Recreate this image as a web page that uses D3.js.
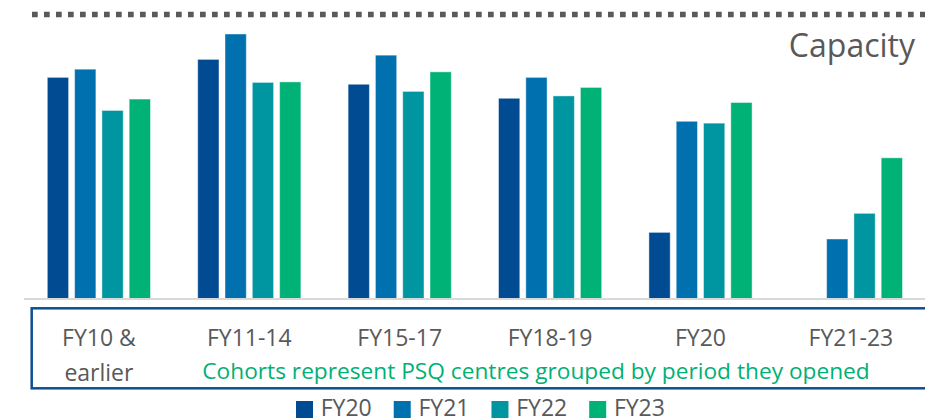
<!DOCTYPE html>
<html>
<head>
<meta charset="utf-8">
<script src="https://cdn.jsdelivr.net/npm/d3@7"></script>
<style>
  body { margin: 0; background: #fff; }
  svg { display: block; font-family: "Open Sans", "Noto Sans", sans-serif; }
</style>
</head>
<body>
<div id="chart"></div>
<script>
// cohorts (period centres opened) and the capacity of each year, indexed to the peak = 100
const cohorts = ["FY10 & earlier", "FY11-14", "FY15-17", "FY18-19", "FY20", "FY21-23"];
const years = ["FY20", "FY21", "FY22", "FY23"];
const fy20 = [83.6, 90.4, 81.0, 75.7, 25.0, 0];
const fy21 = [86.7, 100, 92.0, 83.6, 67.0, 22.5];
const fy22 = [71.1, 81.7, 78.3, 76.6, 66.3, 32.2];
const fy23 = [75.4, 81.9, 85.7, 79.8, 74.1, 53.2];
const colours = ["#004b91", "#0070ae", "#0096a1", "#00b276"];
const note = "Cohorts represent PSQ centres grouped by period they opened";

const width = 925, height = 418;
const series = [fy20, fy21, fy22, fy23];

const svg = d3.select("#chart").append("svg")
    .attr("width", width)
    .attr("height", height);

// dotted rule along the top
svg.append("line")
    .attr("x1", 32).attr("x2", width)
    .attr("y1", 14.5).attr("y2", 14.5)
    .attr("stroke", "#595959")
    .attr("stroke-width", 5.7)
    .attr("stroke-dasharray", "5.7 6.3");

const x0 = d3.scaleBand()
    .domain(cohorts)
    .range([23.7, 926.1])
    .paddingInner(0.314)
    .paddingOuter(0.157);

const x1 = d3.scaleBand()
    .domain(years)
    .range([0, x0.bandwidth()])
    .paddingInner(0.22);

const y = d3.scaleLinear()
    .domain([0, 100])
    .range([298.5, 34]);

const groups = svg.selectAll(".cohort")
    .data(cohorts)
    .enter()
        .append("g")
        .attr("class", "cohort")
        .attr("transform", d => "translate(" + x0(d) + ",0)");

groups.selectAll("rect")
    .data((c, i) => years.map((yr, j) => ({year: yr, value: series[j][i], k: j})))
    .enter()
        .append("rect")
        .filter(d => d.value > 0)
        .attr("x", d => x1(d.year))
        .attr("width", x1.bandwidth())
        .attr("y", d => y(d.value))
        .attr("height", d => y(0) - y(d.value))
        .attr("fill", d => colours[d.k])
        .attr("stroke", "rgba(255,255,255,0.45)")
        .attr("stroke-width", 1);

// baseline
svg.append("line")
    .attr("x1", 24).attr("x2", width)
    .attr("y1", 299).attr("y2", 299)
    .attr("stroke", "#d9d9d9")
    .attr("stroke-width", 2);

// framed box holding the category labels
svg.append("rect")
    .attr("x", 31.7).attr("y", 308.3)
    .attr("width", 920).attr("height", 80)
    .attr("fill", "none")
    .attr("stroke", "#0b4f92")
    .attr("stroke-width", 2.5);

svg.selectAll(".cat")
    .data(cohorts)
    .enter()
        .append("text")
        .attr("class", "cat")
        .attr("x", d => x0(d) + x0.bandwidth() / 2)
        .attr("y", 345.5)
        .attr("text-anchor", "middle")
        .attr("font-size", 23)
        .attr("fill", "#595959")
        .each(function(d) {
            const parts = d === "FY10 & earlier" ? ["FY10 &", "earlier"] : [d];
            const t = d3.select(this);
            parts.forEach((p, i) => {
                t.append("tspan")
                    .attr("x", x0(d) + x0.bandwidth() / 2)
                    .attr("dy", i === 0 ? 0 : 35.5)
                    .text(p);
            });
        });

svg.append("text")
    .attr("x", 536)
    .attr("y", 379)
    .attr("text-anchor", "middle")
    .attr("font-size", 22.7)
    .attr("fill", "#00b074")
    .text(note);

svg.append("text")
    .attr("x", 915)
    .attr("y", 57.3)
    .attr("text-anchor", "end")
    .attr("font-size", 32)
    .attr("fill", "#595959")
    .text("Capacity");

// legend
const legend = svg.append("g");
let lx = 296;
years.forEach((yr, i) => {
    legend.append("rect")
        .attr("x", lx).attr("y", 401)
        .attr("width", 17).attr("height", 17)
        .attr("fill", colours[i]);
    const t = legend.append("text")
        .attr("x", lx + 24.7)
        .attr("y", 415.5)
        .attr("font-size", 23)
        .attr("fill", "#595959")
        .text(yr);
    lx += 24.7 + t.node().getComputedTextLength() + 22;
});
</script>
</body>
</html>
